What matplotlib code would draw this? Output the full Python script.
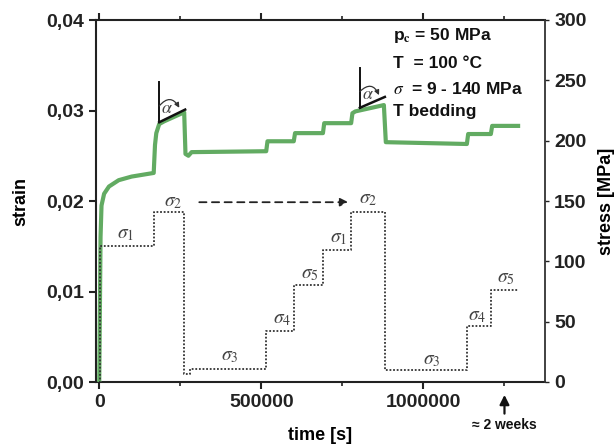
import matplotlib
matplotlib.use("Agg")
import matplotlib.pyplot as plt
from matplotlib.ticker import FixedLocator, FuncFormatter, MultipleLocator

plt.rcParams['font.family'] = ['Liberation Sans', 'DejaVu Sans']

# ---- data ----
strain_t = [0, 2000, 4000, 7000, 15000, 30000, 60000, 100000, 168000,
            172000, 176000, 185000, 200000, 262000,
            266000, 275000, 285000, 515000,
            519000, 600000,
            604000, 690000,
            694000, 777000,
            781000, 790000, 878000,
            884000, 1134000,
            1138000, 1208000,
            1212000, 1292000]
strain = [0.0, 0.008, 0.016, 0.0195, 0.0208, 0.0216, 0.0223, 0.0227, 0.0231,
          0.0262, 0.0275, 0.0285, 0.0288, 0.0298,
          0.0252, 0.0250, 0.0254, 0.0255,
          0.0266, 0.0266,
          0.0275, 0.0275,
          0.0286, 0.0286,
          0.0297, 0.0299, 0.0306,
          0.0265, 0.0263,
          0.0274, 0.0274,
          0.0283, 0.0283]

stress_t = [0, 2000, 170000, 262000, 280000, 515000, 601000, 690000,
            777000, 882000, 1134000, 1208000, 1292000]
stress = [0, 113, 141, 7, 11, 42, 80, 109, 141, 10, 46, 76, 76]

sigma_labels = [r'$\sigma_1$', r'$\sigma_2$', r'$\sigma_3$', r'$\sigma_4$', r'$\sigma_5$',
                r'$\sigma_1$', r'$\sigma_2$', r'$\sigma_3$', r'$\sigma_4$', r'$\sigma_5$']
sigma_label_t = [80000, 228000, 401000, 564000, 650000,
                 737000, 829000, 1027000, 1165000, 1255000]
sigma_label_s = [122, 149, 21, 52, 89, 119, 151, 18, 54, 86]

info_lines = [r'p$_\mathbf{c}$ = 50 MPa', 'T  = 100 °C', r'$\sigma$  = 9 - 140 MPa', 'T bedding']

x_major = [0, 500000, 1000000]
strain_ticks = [0.0, 0.01, 0.02, 0.03, 0.04]
stress_ticks = [0, 50, 100, 150, 200, 250, 300]

# ---- figure ----
fig = plt.figure(figsize=(6.15, 4.48), dpi=100)
ax = fig.add_axes([96/615, 1-382/448, (545-96)/615, (382-20)/448])
ax2 = ax.twinx()

green = '#62ab62'
ax.plot(strain_t, strain, color=green, lw=3.0, solid_joinstyle='round', zorder=3)
ax2.plot(stress_t, stress, color='#333333', lw=1.3, linestyle=(0, (1, 1)),
         drawstyle='steps-post', zorder=2)

ax.set_xlim(-10000, 1375000)
ax.set_ylim(0, 0.04)
ax2.set_ylim(0, 300)

# spines
for s in ['left', 'bottom', 'top']:
    ax.spines[s].set_linewidth(1.5)
    ax.spines[s].set_color('#222222')
ax.spines['right'].set_visible(False)
for s in ['left', 'bottom', 'top']:
    ax2.spines[s].set_visible(False)
ax2.spines['right'].set_linestyle((0, (1, 1)))
ax2.spines['right'].set_linewidth(1.3)
ax2.spines['right'].set_color('#333333')

# ticks
ax.xaxis.set_major_locator(FixedLocator(x_major))
ax.xaxis.set_minor_locator(MultipleLocator(250000))
ax.xaxis.set_major_formatter(FuncFormatter(lambda v, p: f'{int(v)}'))
ax.yaxis.set_major_locator(FixedLocator(strain_ticks))
ax.yaxis.set_major_formatter(FuncFormatter(lambda v, p: f'{v:.2f}'.replace('.', ',')))
ax.tick_params(axis='both', which='major', direction='out', length=5, width=1.5,
               labelsize=14, top=True, colors='#222222')
ax.tick_params(axis='x', which='minor', direction='out', length=3, width=1.2, top=True,
               colors='#222222')
for lab in ax.get_xticklabels() + ax.get_yticklabels():
    lab.set_fontweight('bold')

ax2.yaxis.set_major_locator(FixedLocator(stress_ticks))
ax2.tick_params(axis='y', direction='out', length=3, width=1.0, labelsize=14,
                colors='#222222')
for lab in ax2.get_yticklabels():
    lab.set_fontweight('bold')

ax.set_xlabel('time [s]', fontsize=13, fontweight='bold', labelpad=12)
ax.set_ylabel('strain', fontsize=13, fontweight='bold', labelpad=12)
ax2.set_ylabel('stress [MPa]', fontsize=13, fontweight='bold', labelpad=8)

# sigma labels
for lab, t, s in zip(sigma_labels, sigma_label_t, sigma_label_s):
    ax2.text(t, s, lab, fontsize=14, color='#444444', ha='center', va='center',
             math_fontfamily='stix')

# dashed arrow between sigma2 levels
ax2.annotate('', xy=(777000, 149), xytext=(300000, 149),
             arrowprops=dict(arrowstyle='-|>', linestyle=(0, (4, 3)), lw=1.3,
                             color='#222222', mutation_scale=12))

# info text
for i, line in enumerate(info_lines):
    ax.text(0.661, [0.958, 0.881, 0.809, 0.746][i], line, transform=ax.transAxes,
            fontsize=12.5, fontweight='bold', va='center', ha='left',
            math_fontfamily='stix', color='#111111')

# angle annotations
for (tv, y0, y1, t2, y2, ta, ya) in [
        (185000, 0.0331, 0.0287, 265000, 0.0301, 210000, 0.0302),
        (804000, 0.0347, 0.0303, 881000, 0.0315, 828000, 0.0318)]:
    ax.plot([tv, tv], [y0, y1], color='#111111', lw=1.4, zorder=4)
    ax.plot([tv, t2], [y1, y2], color='#111111', lw=1.8, zorder=4)
    ax.text(ta, ya, r'$\alpha$', fontsize=13, color='#444444', ha='center',
            va='center', math_fontfamily='stix', zorder=5)
    ax.annotate('', xy=(t2 - 18000, y2 + 0.0002), xytext=(tv, ya + 0.0003),
                arrowprops=dict(arrowstyle='-|>', connectionstyle='arc3,rad=-0.7',
                                lw=0.9, color='#333333', mutation_scale=7,
                                shrinkA=0, shrinkB=0), zorder=4)

# 2 weeks arrow
ax.annotate('', xy=(1250000, -0.028), xytext=(1250000, -0.095),
            xycoords=ax.get_xaxis_transform(), textcoords=ax.get_xaxis_transform(),
            arrowprops=dict(arrowstyle='-|>', lw=1.6, color='#111111', mutation_scale=14),
            annotation_clip=False)
ax.text(1250000, -0.119, '≈ 2 weeks', transform=ax.get_xaxis_transform(),
        fontsize=10, fontweight='bold', ha='center', va='center', color='#111111',
        family=['Liberation Sans', 'DejaVu Sans'])

fig.savefig('out.png', dpi=100)
